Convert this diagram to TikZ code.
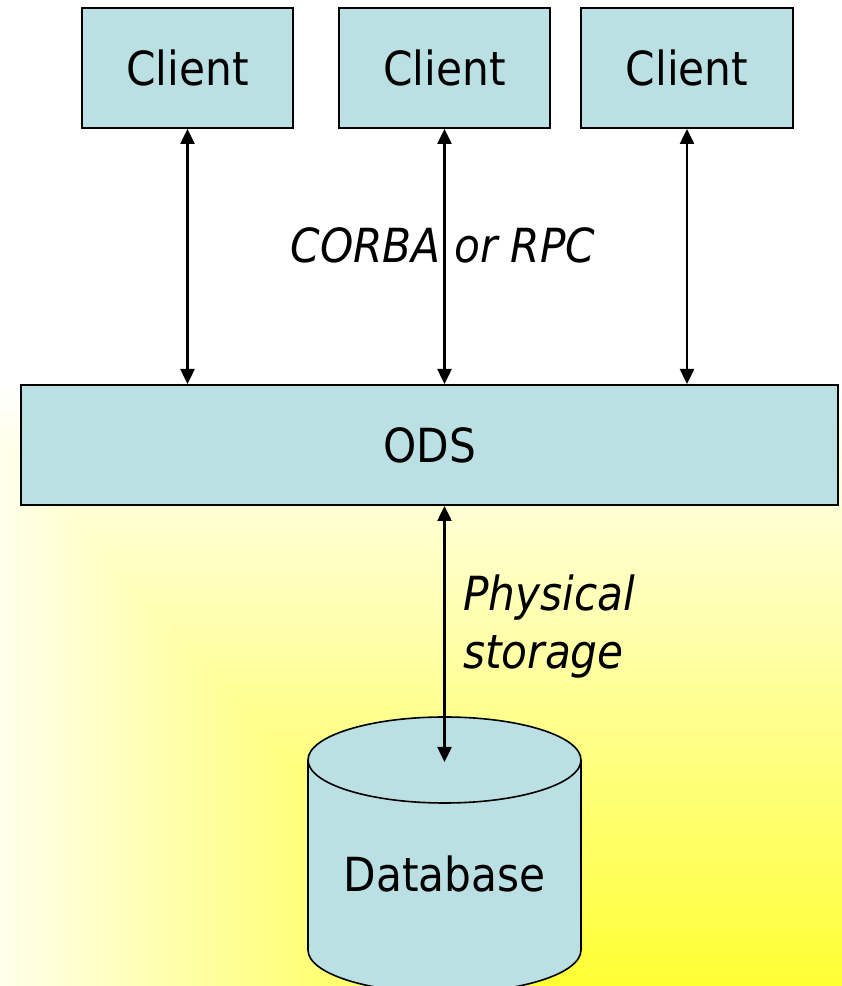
\documentclass[tikz,border=0pt]{standalone}
\usepackage{fontspec}
\setmainfont{DejaVu Sans Condensed}
\usetikzlibrary{arrows.meta}
\definecolor{boxfill}{RGB}{186,224,227}
\definecolor{slideyellow}{RGB}{255,255,50}
\tikzset{
  unitbox/.style={draw=black, line width=2pt, fill=boxfill, inner sep=0pt,
    font=\fontsize{47}{56}\selectfont},
  link/.style={line width=2.5pt, {Triangle[length=15pt,width=14pt]}-{Triangle[length=15pt,width=14pt]}},
  lbl/.style={inner sep=0pt, font=\fontsize{47}{58}\selectfont\itshape}
}
\begin{document}
\begin{tikzpicture}[x=1pt,y=1pt]
\useasboundingbox (0,0) rectangle (842,986);
% slide background: white, with a rectangular yellow gradient rising from the bottom
\fill[white] (0,0) rectangle (842,986);
\begin{scope}
  \clip (0,0) rectangle (842,606);
  \foreach \i in {100,...,1}{
    \pgfmathsetmacro\t{\i/100}
    \pgfmathsetmacro\p{100*(1-\t)}
    \fill[slideyellow!\p!white] (500-557*\t,-4-610*\t) rectangle (900,-4+610*\t);
  }
\end{scope}

% clients
\node[unitbox, minimum width=211pt, minimum height=120pt] (c1) at (187.5,918) {Client};
\node[unitbox, minimum width=211pt, minimum height=120pt] (c2) at (444.5,918) {Client};
\node[unitbox, minimum width=212pt, minimum height=120pt] (c3) at (687,918) {Client};

% object data server
\node[unitbox, minimum width=817pt, minimum height=120pt] (ods) at (429.5,541) {ODS};

% database cylinder
\fill[boxfill] (308,226) -- (308,36) arc[start angle=180, end angle=360, x radius=136.5, y radius=43]
  -- (581,226) arc[start angle=0, end angle=180, x radius=136.5, y radius=43] -- cycle;
\draw[line width=1.6pt] (308,226) -- (308,36) arc[start angle=180, end angle=360, x radius=136.5, y radius=43]
  -- (581,226) arc[start angle=0, end angle=180, x radius=136.5, y radius=43]
  arc[start angle=180, end angle=360, x radius=136.5, y radius=43];
\node[inner sep=0pt, font=\fontsize{47}{56}\selectfont] (db) at (444.5,112) {Database};
\coordinate (dbtop) at (444.5,224);

% connectors
\draw[link] (c1.south) -- (c1.south |- ods.north);
\draw[link] (c2.south) -- (c2.south |- ods.north);
\draw[link] (c3.south) -- (c3.south |- ods.north);
\draw[link] (ods.south -| dbtop) -- (dbtop);

% labels
\node[lbl] (corba) at (443,741) {CORBA or RPC};
\node[lbl, anchor=north west, align=left] (phys) at (463,411) {Physical\\storage};
\end{tikzpicture}
\end{document}
